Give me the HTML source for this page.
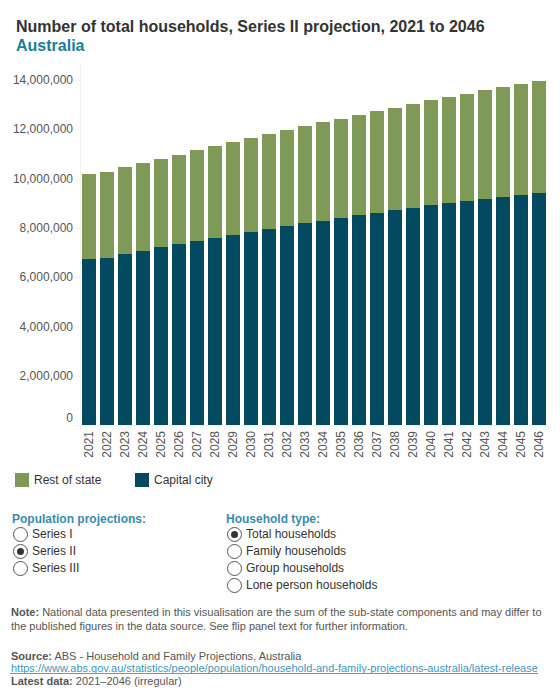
<!DOCTYPE html>
<html><head><meta charset="utf-8"><style>
html,body{margin:0;padding:0;background:#fff;}
body{width:560px;height:700px;position:relative;overflow:hidden;font-family:"Liberation Sans",sans-serif;color:#333;}
.abs{position:absolute;white-space:nowrap;}
.title{position:absolute;left:16px;top:17px;font-size:16px;font-weight:bold;color:#333;line-height:20px;white-space:nowrap;}
.sub{position:absolute;left:16px;top:36px;font-size:16px;font-weight:bold;color:#1c7d99;line-height:20px;white-space:nowrap;}
.yaxis{position:absolute;left:80px;top:64px;width:1px;height:362px;background:#f2f2f2;}
.xaxis{position:absolute;left:75px;top:425px;width:474px;height:1px;background:#f2f2f2;}
.yt{position:absolute;left:75px;width:5px;height:1px;background:#f2f2f2;}
.yl{position:absolute;right:487px;font-size:12px;line-height:16px;color:#555;white-space:nowrap;}
.xt{position:absolute;top:425px;width:1px;height:5px;background:#f2f2f2;}
.b{position:absolute;width:14px;}
.g{background:#7f9a57;}
.c{background:#034a61;}
.yr{position:absolute;top:431px;width:16px;margin-left:-8px;font-size:12px;line-height:16px;color:#555;writing-mode:vertical-rl;transform:rotate(180deg);white-space:nowrap;}
.rot{position:absolute;}
.leg{position:absolute;top:473px;width:14px;height:14px;}
.legt{position:absolute;top:472px;font-size:12px;line-height:16px;color:#333;white-space:nowrap;}
.hd{position:absolute;top:511px;font-size:12px;font-weight:bold;color:#3a8bb0;line-height:16px;white-space:nowrap;}
.rad{position:absolute;width:13px;height:13px;border:1px solid #555;border-radius:50%;box-sizing:content-box;background:#fff;}
.rad.on::after{content:"";position:absolute;left:3px;top:3px;width:7px;height:7px;border-radius:50%;background:#333;}
.rt{position:absolute;font-size:12px;line-height:16px;color:#333;white-space:nowrap;}
.note{position:absolute;left:11px;font-size:11px;color:#555;line-height:14px;white-space:nowrap;}
.note b{color:#555;}
.src{position:absolute;left:11px;font-size:11px;color:#555;line-height:13px;white-space:nowrap;}
.src a{color:#3a96c2;text-decoration:none;}
.ul{position:absolute;left:10px;top:673px;width:528px;height:1px;background:#5b9fbd;}
</style></head><body>
<div class="title">Number of total households, Series II projection, 2021 to 2046</div>
<div class="sub">Australia</div>
<div class="yaxis"></div>
<div class="yt" style="top:425px"></div><div class="yl" style="top:410px">0</div><div class="yt" style="top:376px"></div><div class="yl" style="top:368px">2,000,000</div><div class="yt" style="top:327px"></div><div class="yl" style="top:319px">4,000,000</div><div class="yt" style="top:277px"></div><div class="yl" style="top:269px">6,000,000</div><div class="yt" style="top:228px"></div><div class="yl" style="top:220px">8,000,000</div><div class="yt" style="top:179px"></div><div class="yl" style="top:171px">10,000,000</div><div class="yt" style="top:129px"></div><div class="yl" style="top:121px">12,000,000</div><div class="yt" style="top:80px"></div><div class="yl" style="top:72px">14,000,000</div>
<div class="b g" style="left:82px;top:174px;height:85px"></div><div class="b c" style="left:82px;top:259px;height:166px"></div><div class="b g" style="left:100px;top:172px;height:86px"></div><div class="b c" style="left:100px;top:258px;height:167px"></div><div class="b g" style="left:118px;top:167px;height:87px"></div><div class="b c" style="left:118px;top:254px;height:171px"></div><div class="b g" style="left:136px;top:163px;height:88px"></div><div class="b c" style="left:136px;top:251px;height:174px"></div><div class="b g" style="left:154px;top:159px;height:88px"></div><div class="b c" style="left:154px;top:247px;height:178px"></div><div class="b g" style="left:172px;top:155px;height:89px"></div><div class="b c" style="left:172px;top:244px;height:181px"></div><div class="b g" style="left:190px;top:150px;height:91px"></div><div class="b c" style="left:190px;top:241px;height:184px"></div><div class="b g" style="left:208px;top:146px;height:92px"></div><div class="b c" style="left:208px;top:238px;height:187px"></div><div class="b g" style="left:226px;top:142px;height:93px"></div><div class="b c" style="left:226px;top:235px;height:190px"></div><div class="b g" style="left:244px;top:138px;height:94px"></div><div class="b c" style="left:244px;top:232px;height:193px"></div><div class="b g" style="left:262px;top:134px;height:95px"></div><div class="b c" style="left:262px;top:229px;height:196px"></div><div class="b g" style="left:280px;top:130px;height:96px"></div><div class="b c" style="left:280px;top:226px;height:199px"></div><div class="b g" style="left:298px;top:126px;height:97px"></div><div class="b c" style="left:298px;top:223px;height:202px"></div><div class="b g" style="left:316px;top:122px;height:99px"></div><div class="b c" style="left:316px;top:221px;height:204px"></div><div class="b g" style="left:334px;top:119px;height:99px"></div><div class="b c" style="left:334px;top:218px;height:207px"></div><div class="b g" style="left:352px;top:115px;height:100px"></div><div class="b c" style="left:352px;top:215px;height:210px"></div><div class="b g" style="left:370px;top:111px;height:102px"></div><div class="b c" style="left:370px;top:213px;height:212px"></div><div class="b g" style="left:388px;top:108px;height:102px"></div><div class="b c" style="left:388px;top:210px;height:215px"></div><div class="b g" style="left:406px;top:104px;height:104px"></div><div class="b c" style="left:406px;top:208px;height:217px"></div><div class="b g" style="left:424px;top:100px;height:105px"></div><div class="b c" style="left:424px;top:205px;height:220px"></div><div class="b g" style="left:442px;top:97px;height:106px"></div><div class="b c" style="left:442px;top:203px;height:222px"></div><div class="b g" style="left:460px;top:94px;height:107px"></div><div class="b c" style="left:460px;top:201px;height:224px"></div><div class="b g" style="left:478px;top:90px;height:109px"></div><div class="b c" style="left:478px;top:199px;height:226px"></div><div class="b g" style="left:496px;top:87px;height:110px"></div><div class="b c" style="left:496px;top:197px;height:228px"></div><div class="b g" style="left:514px;top:84px;height:111px"></div><div class="b c" style="left:514px;top:195px;height:230px"></div><div class="b g" style="left:532px;top:81px;height:112px"></div><div class="b c" style="left:532px;top:193px;height:232px"></div>
<div class="xaxis"></div>
<div class="xt" style="left:80px"></div><div class="xt" style="left:98px"></div><div class="xt" style="left:116px"></div><div class="xt" style="left:134px"></div><div class="xt" style="left:152px"></div><div class="xt" style="left:170px"></div><div class="xt" style="left:188px"></div><div class="xt" style="left:206px"></div><div class="xt" style="left:224px"></div><div class="xt" style="left:242px"></div><div class="xt" style="left:260px"></div><div class="xt" style="left:278px"></div><div class="xt" style="left:296px"></div><div class="xt" style="left:314px"></div><div class="xt" style="left:332px"></div><div class="xt" style="left:350px"></div><div class="xt" style="left:368px"></div><div class="xt" style="left:386px"></div><div class="xt" style="left:404px"></div><div class="xt" style="left:422px"></div><div class="xt" style="left:440px"></div><div class="xt" style="left:458px"></div><div class="xt" style="left:476px"></div><div class="xt" style="left:494px"></div><div class="xt" style="left:512px"></div><div class="xt" style="left:530px"></div><div class="xt" style="left:548px"></div>
<div class="yr" style="left:89px">2021</div><div class="yr" style="left:107px">2022</div><div class="yr" style="left:125px">2023</div><div class="yr" style="left:143px">2024</div><div class="yr" style="left:161px">2025</div><div class="yr" style="left:179px">2026</div><div class="yr" style="left:197px">2027</div><div class="yr" style="left:215px">2028</div><div class="yr" style="left:233px">2029</div><div class="yr" style="left:251px">2030</div><div class="yr" style="left:269px">2031</div><div class="yr" style="left:287px">2032</div><div class="yr" style="left:305px">2033</div><div class="yr" style="left:323px">2034</div><div class="yr" style="left:341px">2035</div><div class="yr" style="left:359px">2036</div><div class="yr" style="left:377px">2037</div><div class="yr" style="left:395px">2038</div><div class="yr" style="left:413px">2039</div><div class="yr" style="left:431px">2040</div><div class="yr" style="left:449px">2041</div><div class="yr" style="left:467px">2042</div><div class="yr" style="left:485px">2043</div><div class="yr" style="left:503px">2044</div><div class="yr" style="left:521px">2045</div><div class="yr" style="left:539px">2046</div>
<div class="leg" style="left:15px;background:#7f9a57"></div>
<div class="legt" style="left:34px">Rest of state</div>
<div class="leg" style="left:135px;background:#034a61"></div>
<div class="legt" style="left:154px">Capital city</div>
<div class="hd" style="left:12px">Population projections:</div>
<div class="rad" style="left:13px;top:527px"></div><div class="rt" style="left:32px;top:526px">Series I</div>
<div class="rad on" style="left:13px;top:544px"></div><div class="rt" style="left:32px;top:543px">Series II</div>
<div class="rad" style="left:13px;top:561px"></div><div class="rt" style="left:32px;top:560px">Series III</div>
<div class="hd" style="left:226px">Household type:</div>
<div class="rad on" style="left:227px;top:527px"></div><div class="rt" style="left:246px;top:526px">Total households</div>
<div class="rad" style="left:227px;top:544px"></div><div class="rt" style="left:246px;top:543px">Family households</div>
<div class="rad" style="left:227px;top:561px"></div><div class="rt" style="left:246px;top:560px">Group households</div>
<div class="rad" style="left:227px;top:578px"></div><div class="rt" style="left:246px;top:577px">Lone person households</div>
<div class="note" style="top:605px"><b>Note:</b> National data presented in this visualisation are the sum of the sub-state components and may differ to</div>
<div class="note" style="top:619px">the published figures in the data source. See flip panel text for further information.</div>
<div class="src" style="top:650px"><b>Source:</b> ABS - Household and Family Projections, Australia</div>
<div class="src" style="top:662px"><a>https://www.abs.gov.au/statistics/people/population/household-and-family-projections-australia/latest-release</a></div>
<div class="ul"></div>
<div class="src" style="top:675px"><b>Latest data:</b> 2021–2046 (irregular)</div>
</body></html>
